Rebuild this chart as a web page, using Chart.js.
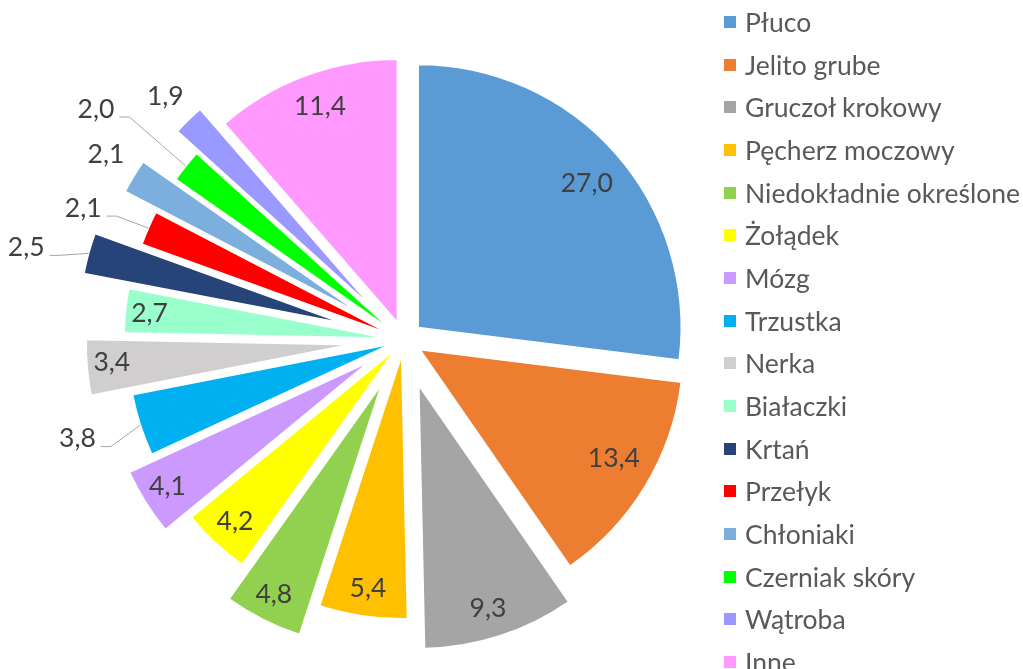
<!DOCTYPE html>
<html>
<head>
<meta charset="utf-8">
<script src="https://cdn.jsdelivr.net/npm/chart.js@4/dist/chart.umd.min.js"></script>
<style>
  html, body { margin: 0; padding: 0; background: #fff; }
  #wrap { position: relative; width: 1023px; height: 669px; overflow: hidden; }
  #wrap canvas { position: absolute; left: 0; top: 0; }
  #legend { position: absolute; left: 724px; top: 0; font-family: Lato, sans-serif; font-size: 26.5px; color: #595959; }
  .item { position: absolute; left: 0; white-space: nowrap; height: 30px; line-height: 30px; }
  .item .sw { position: absolute; left: 0; top: 9px; width: 12px; height: 12px; }
  .item .tx { position: absolute; left: 21px; top: 0; }
</style>
</head>
<body>
<div id="wrap">
  <canvas id="pie" width="1023" height="669"></canvas>
  <div id="legend"></div>
</div>
<script>
// Data
const labels = ['Płuco', 'Jelito grube', 'Gruczoł krokowy', 'Pęcherz moczowy', 'Niedokładnie określone',
    'Żołądek', 'Mózg', 'Trzustka', 'Nerka', 'Białaczki', 'Krtań', 'Przełyk', 'Chłoniaki',
    'Czerniak skóry', 'Wątroba', 'Inne'];
const values = [27.0, 13.4, 9.3, 5.4, 4.8, 4.2, 4.1, 3.8, 3.4, 2.7, 2.5, 2.1, 2.1, 2.0, 1.9, 11.4];
const colors = ['#5B9BD5', '#ED7D31', '#A5A5A5', '#FFC000', '#92D050', '#FFFF00', '#CC99FF', '#00B0F0',
    '#D0CECE', '#99FFCC', '#264478', '#FF0000', '#7CAFDD', '#00FF00', '#9999FF', '#FF99FF'];

// How far each slice is pulled out of the pie (px)
const explode = [19, 19, 48, 16, 50, 14, 42, 14, 55, 17, 64, 16, 53, 16, 45, 19];
// Label distance from centre, as a share of the radius, plus a small angle nudge (deg)
const labelDist = [0.916, 0.916, 1.068, 0.954, 1.087, 0.943, 1.057, 1.297, 1.114, 0.973, 1.479, 1.319, 1.335, 1.464, 1.297, 0.943];
const labelNudge = [0.8, -1.8, 0.6, -0.2, 0.3, 0, 0.4, 1.1, 0.6, 0, -1.6, -1.3, 0.7, -1.7, 0, 0.7];
const leader = [false, false, false, false, false, false, false, true, false, false, true, true, false, true, false, false];

// Draw slices pulled outward
const explodePlugin = {
    id: 'explode',
    beforeDatasetDraw(chart, args) {
        const ctx = chart.ctx;
        args.meta.data.forEach((arc, i) => {
            const mid = (arc.startAngle + arc.endAngle) / 2;
            ctx.save();
            ctx.translate(Math.cos(mid) * explode[i], Math.sin(mid) * explode[i]);
            arc.draw(ctx);
            ctx.restore();
        });
        return false;
    }
};

// Value labels, with leader lines for the ones outside
const valueLabels = {
    id: 'valueLabels',
    afterDatasetsDraw(chart) {
        const ctx = chart.ctx;
        const meta = chart.getDatasetMeta(0);
        ctx.save();
        ctx.font = '26.5px Lato, sans-serif';
        ctx.textAlign = 'center';
        ctx.textBaseline = 'middle';
        meta.data.forEach((arc, i) => {
            const mid = (arc.startAngle + arc.endAngle) / 2;
            const a = mid + labelNudge[i] * Math.PI / 180;
            const r = arc.outerRadius;
            const lx = arc.x + Math.cos(a) * r * labelDist[i];
            const ly = arc.y + Math.sin(a) * r * labelDist[i];
            const text = values[i].toFixed(1).replace('.', ',');
            if (leader[i]) {
                const w = ctx.measureText(text).width;
                const sx = arc.x + Math.cos(mid) * (r + explode[i]);
                const sy = arc.y + Math.sin(mid) * (r + explode[i]);
                const ex = lx + w / 2 + 5;
                const ey = ly + 8;
                ctx.strokeStyle = '#A6A6A6';
                ctx.lineWidth = 1;
                ctx.beginPath();
                ctx.moveTo(sx, sy);
                ctx.lineTo(ex + 10, ey);
                ctx.lineTo(ex, ey);
                ctx.stroke();
            }
            ctx.fillStyle = '#404040';
            ctx.fillText(text, lx, ly);
        });
        ctx.restore();
    }
};

new Chart(document.getElementById('pie'), {
    type: 'pie',
    data: {
        labels: labels,
        datasets: [{
            data: values,
            backgroundColor: colors,
            borderColor: '#ffffff',
            borderWidth: 1.5,
            radius: 263
        }]
    },
    options: {
        responsive: false,
        animation: false,
        layout: { padding: { left: 0, right: 215, top: 11, bottom: 0 } },
        plugins: {
            legend: { display: false },
            tooltip: { enabled: false }
        }
    },
    plugins: [explodePlugin, valueLabels]
});

// Legend on the right
const legend = document.getElementById('legend');
labels.forEach((name, i) => {
    const item = document.createElement('div');
    item.className = 'item';
    item.style.top = (22 + 42.67 * i - 15) + 'px';
    item.innerHTML = '<span class="sw" style="background:' + colors[i] + '"></span><span class="tx">' + name + '</span>';
    legend.appendChild(item);
});
</script>
</body>
</html>
